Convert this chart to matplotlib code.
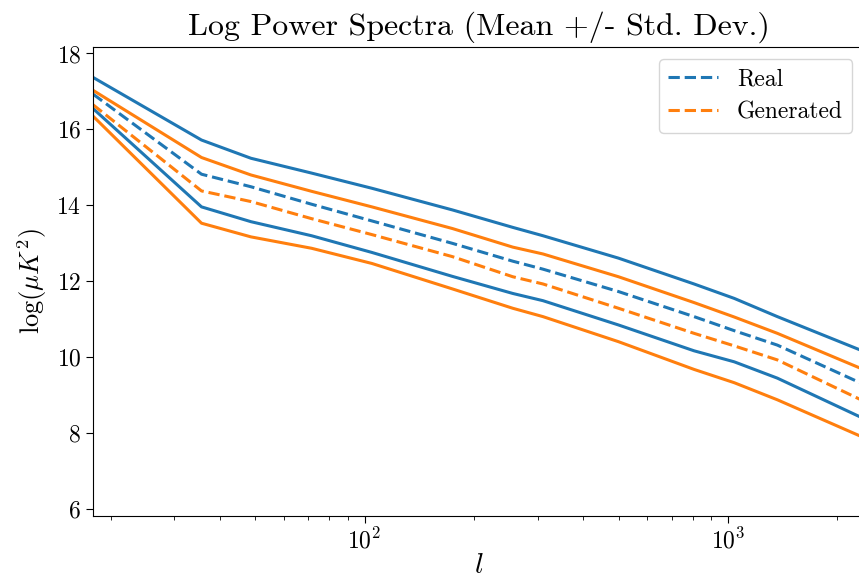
import matplotlib
matplotlib.use("Agg")
import matplotlib.pyplot as plt

plt.rcParams['font.family'] = 'serif'
plt.rcParams['font.serif'] = ['cmr10', 'DejaVu Serif']
plt.rcParams['mathtext.fontset'] = 'cm'
plt.rcParams['axes.formatter.use_mathtext'] = True

# multipole l
ell = [17.9, 35.6, 48.7, 71.5, 104.8, 174.5, 255.9, 309.8, 500, 807, 1041, 1368, 2371]

real_upper = [17.37, 15.72, 15.24, 14.85, 14.45, 13.88, 13.42, 13.20, 12.61, 11.93, 11.55, 11.07, 10.15]
real_mean  = [16.93, 14.82, 14.49, 14.03, 13.59, 13.00, 12.53, 12.32, 11.73, 11.07, 10.70, 10.32, 9.28]
real_lower = [16.55, 13.96, 13.57, 13.20, 12.76, 12.13, 11.68, 11.49, 10.85, 10.17, 9.88, 9.45, 8.38]

gen_upper = [17.03, 15.26, 14.80, 14.37, 13.96, 13.39, 12.90, 12.72, 12.12, 11.44, 11.06, 10.63, 9.67]
gen_mean  = [16.65, 14.38, 14.10, 13.65, 13.23, 12.65, 12.12, 11.93, 11.29, 10.63, 10.30, 9.93, 8.84]
gen_lower = [16.35, 13.53, 13.17, 12.87, 12.47, 11.80, 11.29, 11.07, 10.41, 9.68, 9.33, 8.88, 7.88]

blue = '#1f77b4'
orange = '#ff7f0e'

fig = plt.figure(figsize=(8.59, 5.81), dpi=100)
ax = fig.add_axes([93/859, 1 - 516/581, 1.006 - 93/859, (516 - 47)/581])

lw = 2.2
ax.plot(ell, real_mean, '--', color=blue, lw=lw, label='Real')
ax.plot(ell, real_upper, '-', color=blue, lw=lw)
ax.plot(ell, real_lower, '-', color=blue, lw=lw)
ax.plot(ell, gen_mean, '--', color=orange, lw=lw, label='Generated')
ax.plot(ell, gen_upper, '-', color=orange, lw=lw)
ax.plot(ell, gen_lower, '-', color=orange, lw=lw)

ax.set_xscale('log')
ax.set_xlim(ell[0], ell[-1])
ax.set_ylim(5.82, 18.17)
ax.set_yticks([6, 8, 10, 12, 14, 16, 18])
ax.tick_params(axis='both', which='major', labelsize=17, length=5)
ax.tick_params(axis='x', which='minor', length=3)

ax.set_title('Log Power Spectra (Mean +/- Std. Dev.)', fontsize=23, pad=9)
ax.set_xlabel(r'$l$', fontsize=21, labelpad=0)
ax.set_ylabel(r'$\log(\mu K^2)$', fontsize=19, labelpad=5)

ax.legend(loc='upper right', fontsize=17, handlelength=2.1, framealpha=0.8,
          borderaxespad=0.5, labelspacing=0.45)

fig.savefig('out.png', dpi=100)
